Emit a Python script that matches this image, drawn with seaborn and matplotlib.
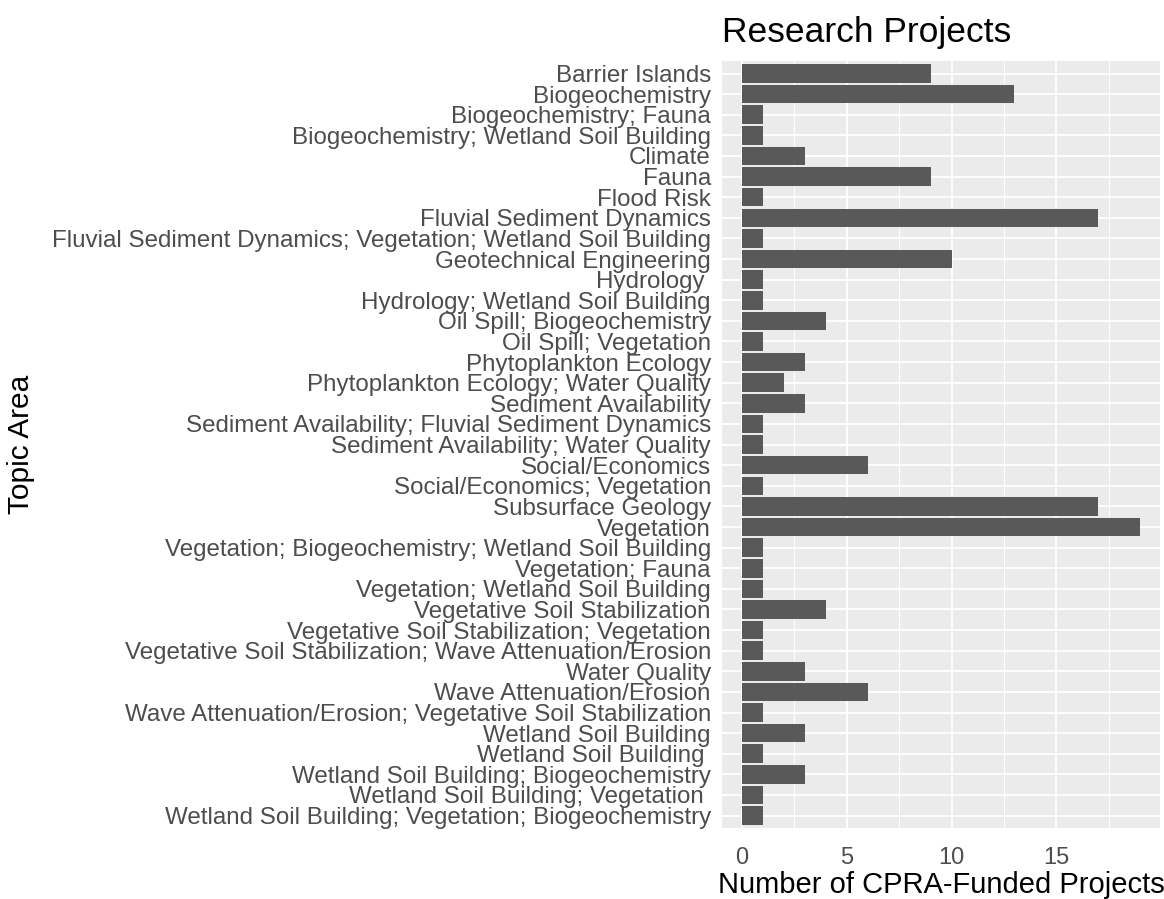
import matplotlib
matplotlib.use("Agg")
import matplotlib.pyplot as plt
import seaborn as sns
import pandas as pd
from matplotlib.ticker import MultipleLocator

topics = [
    "Barrier Islands", "Biogeochemistry", "Biogeochemistry; Fauna",
    "Biogeochemistry; Wetland Soil Building", "Climate", "Fauna", "Flood Risk",
    "Fluvial Sediment Dynamics",
    "Fluvial Sediment Dynamics; Vegetation; Wetland Soil Building",
    "Geotechnical Engineering", "Hydrology ", "Hydrology; Wetland Soil Building",
    "Oil Spill; Biogeochemistry", "Oil Spill; Vegetation", "Phytoplankton Ecology",
    "Phytoplankton Ecology; Water Quality", "Sediment Availability",
    "Sediment Availability; Fluvial Sediment Dynamics",
    "Sediment Availability; Water Quality", "Social/Economics",
    "Social/Economics; Vegetation", "Subsurface Geology", "Vegetation",
    "Vegetation; Biogeochemistry; Wetland Soil Building", "Vegetation; Fauna",
    "Vegetation; Wetland Soil Building", "Vegetative Soil Stabilization",
    "Vegetative Soil Stabilization; Vegetation",
    "Vegetative Soil Stabilization; Wave Attenuation/Erosion", "Water Quality",
    "Wave Attenuation/Erosion",
    "Wave Attenuation/Erosion; Vegetative Soil Stabilization",
    "Wetland Soil Building", "Wetland Soil Building ",
    "Wetland Soil Building; Biogeochemistry", "Wetland Soil Building; Vegetation ",
    "Wetland Soil Building; Vegetation; Biogeochemistry",
]
counts = [9, 13, 1, 1, 3, 9, 1, 17, 1, 10, 1, 1, 4, 1, 3, 2, 3, 1, 1, 6, 1, 17,
          19, 1, 1, 1, 4, 1, 1, 3, 6, 1, 3, 1, 3, 1, 1]

df = pd.DataFrame({"topic": topics, "n": counts})

sns.set_theme(style="darkgrid")
plt.rcParams["font.family"] = ["Liberation Sans", "DejaVu Sans"]

fig = plt.figure(figsize=(11.64, 8.99), dpi=100)
ax = fig.add_axes([0.6203, 0.079, 0.3763, 0.853])
sns.barplot(data=df, y="topic", x="n", order=topics, orient="h",
            color="#595959", saturation=1, width=0.9, ax=ax, linewidth=0)

ax.set_facecolor("#EBEBEB")
ax.set_xlim(-0.95, 19.95)
ax.set_ylim(len(topics) - 0.4, -0.6)
ax.xaxis.set_major_locator(MultipleLocator(5))
ax.xaxis.set_minor_locator(MultipleLocator(2.5))
ax.grid(which="major", color="white", linewidth=1.3)
ax.grid(which="minor", axis="x", color="white", linewidth=0.7)
ax.set_axisbelow(True)
for s in ax.spines.values():
    s.set_visible(False)
ax.tick_params(axis="both", which="major", length=5, width=1.2, color="#333333",
               labelcolor="#4D4D4D", labelsize=17.4, pad=3, direction="out")
ax.tick_params(axis="x", which="minor", length=0)
ax.tick_params(axis="x", labelsize=17, pad=9)
ax.set_xlabel("Number of CPRA-Funded Projects", fontsize=21, color="black", labelpad=1)
ax.set_ylabel("Topic Area", fontsize=21.5, color="black")
ax.yaxis.set_label_coords(-1.568, 0.5)
ax.set_title("Research Projects", fontsize=25.5, loc="left", pad=14, color="black")

fig.savefig("out.png", dpi=100)
